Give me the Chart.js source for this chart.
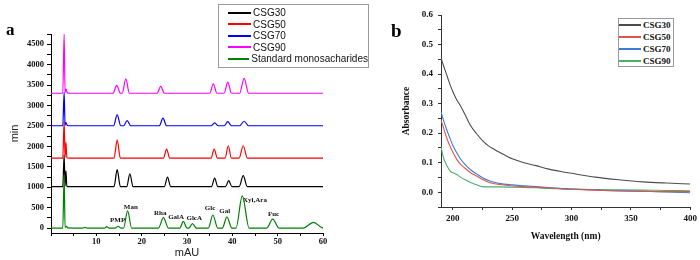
<!DOCTYPE html>
<html lang="en">
<head>
  <meta charset="UTF-8">
  <title>CSG monosaccharides and UV absorbance</title>
  <script src="https://cdn.jsdelivr.net/npm/chart.js"></script>
  <style>
    body {
      margin: 0;
      background: white;
      width: 700px;
      height: 260px;
      position: relative;
      overflow: hidden;
      font-family: 'Liberation Sans', Arial, sans-serif;
    }
    #chartA { position: absolute; left: 0; top: 0; }
    #chartB { position: absolute; left: 370px; top: 0; }
    .tag {
      position: absolute;
      font-family: 'Liberation Serif', serif;
      font-weight: bold;
      line-height: 1;
    }
    .legend {
      position: absolute;
      box-sizing: border-box;
      background: white;
      border: 1px solid #999;
    }
    .legend .row { display: flex; align-items: center; white-space: nowrap; }
    .legend .swatch { display: inline-block; height: 2px; }
    #legendA { left: 218px; top: 4px; width: 151px; height: 64px; padding-top: 2px; font-size: 10px; color: #111; }
    #legendA .row { height: 11.5px; }
    #legendA .swatch { width: 23px; margin-left: 9px; margin-right: 2px; }
    #legendB { left: 618px; top: 18px; width: 56px; height: 49px; padding-top: 0; font-family: 'Liberation Serif', serif; font-weight: bold; font-size: 9px; color: #111; }
    #legendB .row { height: 12px; }
    #legendB .swatch { width: 22px; margin-right: 2px; }
  </style>
</head>
<body>
  <canvas id="chartA" width="370" height="260"></canvas>
  <canvas id="chartB" width="330" height="260"></canvas>
  <div class="tag" style="left:6px; top:21px; font-size:17px;">a</div>
  <div class="tag" style="left:391px; top:21px; font-size:19px;">b</div>
  <div class="legend" id="legendA"></div>
  <div class="legend" id="legendB"></div>

  <script>
    // ---- panel a: chromatograms, [time, signal] pairs
    const hplcCSG30 = [[0,1015],[2.6,1015],[2.9,1800],[3.1,1030],[3.3,1400],[3.5,1020],[4.0,1015],
      [13.9,1015],[14.6,1430],[15.3,1015],[16.7,1015],[17.4,1325],[18.1,1015],
      [25.0,1015],[25.7,1245],[26.4,1015],[35.4,1015],[36.1,1225],[36.8,1015],
      [38.5,1015],[39.2,1160],[39.9,1015],[41.5,1015],[42.4,1285],[43.3,1015],[60,1015]];
    const hplcCSG50 = [[0,1710],[2.6,1710],[2.9,2620],[3.1,1730],[3.3,2100],[3.5,1720],[4.0,1710],
      [13.9,1710],[14.6,2155],[15.3,1710],[24.8,1710],[25.5,1935],[26.2,1710],
      [35.3,1710],[36.0,1935],[36.7,1710],[38.4,1710],[39.1,2015],[39.8,1710],
      [41.5,1710],[42.4,2015],[43.3,1710],[60,1710]];
    const hplcCSG70 = [[0,2505],[2.6,2505],[2.9,3330],[3.1,2520],[3.3,2580],[3.6,2510],[4.2,2505],
      [13.8,2505],[14.6,2770],[15.4,2505],[16.0,2505],[16.8,2630],[17.6,2505],
      [23.9,2505],[24.7,2690],[25.5,2505],[35.3,2505],[36.1,2575],[36.9,2505],
      [38.2,2505],[39.0,2605],[39.8,2505],[41.6,2505],[42.6,2615],[43.6,2505],[60,2505]];
    const hplcCSG90 = [[0,3300],[2.6,3300],[2.9,4750],[3.1,3320],[3.3,3400],[3.6,3310],[4.2,3300],
      [13.7,3300],[14.5,3495],[15.3,3300],[15.7,3300],[16.5,3650],[17.3,3300],
      [23.4,3300],[24.2,3470],[25.0,3300],[35.0,3300],[35.8,3530],[36.6,3300],
      [38.2,3300],[39.0,3570],[39.8,3300],[41.6,3300],[42.6,3665],[43.6,3300],[60,3300]];
    const hplcStandard = [[0,0],[2.6,0],[2.9,1300],[3.1,20],[3.4,40],[3.7,5],[7.0,0],[7.5,20],[8.0,0],
      [11.8,0],[12.3,35],[12.8,0],[14.2,0],[14.8,45],[15.4,0],[16.0,0],[16.9,420],[17.8,0],
      [23.7,0],[24.8,255],[25.9,0],[28.4,0],[29.2,165],[30.0,0],[30.4,0],[31.2,110],[32.1,0],
      [34.7,0],[35.7,320],[36.8,0],[37.8,0],[38.8,275],[39.9,0],[40.8,0],[42.2,790],[43.7,0],
      [47.6,0],[48.9,220],[50.3,0],[55.6,0],[57.9,140],[59.6,20],[60,0]];

    const peakNames = ['PMP', 'Man', 'Rha', 'GalA', 'GlcA', 'Glc', 'Gal', 'Xyl,Ara', 'Fuc'];
    const peakNameTime = [14.7, 17.6, 24.1, 27.6, 31.6, 35.1, 38.3, 45.0, 49.1];
    const peakNameSignal = [200, 510, 370, 275, 250, 490, 415, 690, 345];

    // ---- panel b: UV absorbance
    const wavelength = [190, 192, 195, 198, 200, 203, 206, 210, 215, 220, 225, 230, 235, 240,
      250, 260, 270, 280, 290, 300, 320, 340, 360, 380, 400];
    const absCSG30 = [0.455, 0.43, 0.395, 0.36, 0.34, 0.315, 0.295, 0.265, 0.225, 0.198, 0.175, 0.157, 0.145, 0.134,
      0.113, 0.100, 0.090, 0.079, 0.071, 0.064, 0.051, 0.042, 0.035, 0.031, 0.028];
    const absCSG50 = [0.245, 0.22, 0.182, 0.152, 0.135, 0.113, 0.097, 0.082, 0.066, 0.055, 0.043, 0.034, 0.029, 0.026,
      0.021, 0.019, 0.017, 0.015, 0.012, 0.010, 0.007, 0.004, 0.003, 0.002, 0.002];
    const absCSG70 = [0.272, 0.245, 0.21, 0.178, 0.158, 0.135, 0.115, 0.095, 0.076, 0.062, 0.049, 0.040, 0.034, 0.029,
      0.025, 0.022, 0.019, 0.016, 0.013, 0.011, 0.008, 0.005, 0.003, 0.001, -0.002];
    const absCSG90 = [0.155, 0.118, 0.09, 0.071, 0.066, 0.061, 0.052, 0.043, 0.033, 0.025, 0.019, 0.018, 0.018, 0.018,
      0.017, 0.016, 0.015, 0.013, 0.012, 0.011, 0.009, 0.008, 0.007, 0.006, 0.005];

    const toXY = pairs => pairs.map(p => ({ x: p[0], y: p[1] }));

    const seriesA = [
      { label: 'CSG30', data: hplcCSG30, color: '#000000', order: 5 },
      { label: 'CSG50', data: hplcCSG50, color: '#ff0000', order: 4 },
      { label: 'CSG70', data: hplcCSG70, color: '#0000ff', order: 3 },
      { label: 'CSG90', data: hplcCSG90, color: '#ff00ff', order: 2 },
      { label: 'Standard monosacharides', data: hplcStandard, color: '#008000', order: 1 }
    ];
    const seriesB = [
      { label: 'CSG30', data: absCSG30, color: '#4d4d4d' },
      { label: 'CSG50', data: absCSG50, color: '#e0544f' },
      { label: 'CSG70', data: absCSG70, color: '#3b7dd0' },
      { label: 'CSG90', data: absCSG90, color: '#4caf6e' }
    ];

    // simple html legends
    function buildLegend(id, series) {
      const box = document.getElementById(id);
      series.forEach(s => {
        const row = document.createElement('div');
        row.className = 'row';
        const sw = document.createElement('span');
        sw.className = 'swatch';
        sw.style.backgroundColor = s.color;
        const txt = document.createElement('span');
        txt.textContent = s.label;
        row.appendChild(sw);
        row.appendChild(txt);
        box.appendChild(row);
      });
    }
    buildLegend('legendA', seriesA);
    buildLegend('legendB', seriesB);

    // peak names on the standard trace
    const peakLabelPlugin = {
      id: 'peakLabels',
      afterDatasetsDraw(chart) {
        const { ctx, scales: { x, y } } = chart;
        ctx.save();
        ctx.font = 'bold 7px "Liberation Serif"';
        ctx.fillStyle = '#111';
        ctx.textAlign = 'center';
        ctx.textBaseline = 'middle';
        peakNames.forEach((name, i) => {
          ctx.fillText(name, x.getPixelForValue(peakNameTime[i]), y.getPixelForValue(peakNameSignal[i]));
        });
        ctx.restore();
      }
    };

    const tickFontA = { family: 'Liberation Serif', size: 8.5, weight: 'bold' };

    new Chart(document.getElementById('chartA'), {
      type: 'line',
      data: {
        datasets: seriesA.map(s => ({
          label: s.label,
          data: toXY(s.data),
          borderColor: s.color,
          borderWidth: 1.2,
          pointRadius: 0,
          fill: false,
          order: s.order,
          cubicInterpolationMode: 'monotone'
        }))
      },
      options: {
        responsive: false,
        animation: false,
        layout: { padding: { left: 0, right: 47, top: 34, bottom: 0 } },
        plugins: { legend: { display: false }, tooltip: { enabled: false } },
        scales: {
          x: {
            type: 'linear',
            min: 0,
            max: 60,
            afterFit: s => { s.height = 27; },
            border: { color: '#000', width: 1 },
            grid: { drawOnChartArea: false, color: '#000', tickLength: 3 },
            ticks: {
              stepSize: 5,
              autoSkip: false,
              maxRotation: 0,
              padding: 1,
              color: '#111',
              font: tickFontA,
              callback: v => (v % 10 === 0 && v > 0) ? v : ''
            },
            title: { display: true, text: 'mAU', color: '#222', padding: { top: 0, bottom: 0 },
              font: { family: 'Liberation Sans', size: 11 } }
          },
          y: {
            min: -120,
            max: 4750,
            afterFit: s => { s.width = 51; },
            border: { color: '#000', width: 1 },
            grid: { drawOnChartArea: false, color: '#000', tickLength: 4 },
            ticks: {
              stepSize: 250,
              includeBounds: false,
              autoSkip: false,
              padding: 3,
              color: '#111',
              font: tickFontA,
              callback: v => (v % 500 === 0 && v <= 4500) ? v : ''
            },
            title: { display: true, text: 'min', color: '#222', padding: { top: 8, bottom: 0 },
              font: { family: 'Liberation Sans', size: 11 } }
          }
        }
      },
      plugins: [peakLabelPlugin]
    });

    const tickFontB = { family: 'Liberation Serif', size: 9, weight: 'bold' };

    new Chart(document.getElementById('chartB'), {
      type: 'line',
      data: {
        datasets: seriesB.map(s => ({
          label: s.label,
          data: s.data.map((v, i) => ({ x: wavelength[i], y: v })),
          borderColor: s.color,
          borderWidth: 1.1,
          pointRadius: 0,
          fill: false,
          cubicInterpolationMode: 'monotone'
        }))
      },
      options: {
        responsive: false,
        animation: false,
        layout: { padding: { left: 30, right: 8, top: 15, bottom: 18 } },
        plugins: { legend: { display: false }, tooltip: { enabled: false } },
        scales: {
          x: {
            type: 'linear',
            min: 190,
            max: 400,
            afterFit: s => { s.height = 35; },
            border: { color: '#333', width: 1 },
            grid: { drawOnChartArea: false, color: '#333', tickLength: 3 },
            ticks: {
              stepSize: 25,
              includeBounds: false,
              autoSkip: false,
              maxRotation: 0,
              padding: 3,
              color: '#111',
              font: tickFontB,
              callback: v => (v % 50 === 0) ? v : ''
            },
            title: { display: true, text: 'Wavelength (nm)', color: '#111', padding: { top: 0, bottom: 0 },
              font: { family: 'Liberation Serif', size: 9.5, weight: 'bold' } }
          },
          y: {
            min: -0.05,
            max: 0.6,
            afterFit: s => { s.width = 41; },
            border: { color: '#333', width: 1 },
            grid: { drawOnChartArea: false, color: '#333', tickLength: 3 },
            ticks: {
              stepSize: 0.05,
              includeBounds: false,
              autoSkip: false,
              padding: 5,
              color: '#111',
              font: tickFontB,
              callback: v => {
                const tenth = Math.round(v * 10);
                return (Math.abs(v * 10 - tenth) < 1e-6 && tenth >= 0) ? (tenth / 10).toFixed(1) : '';
              }
            },
            title: { display: true, text: 'Absorbance', color: '#111', padding: { top: 1, bottom: 0 },
              font: { family: 'Liberation Serif', size: 9.5, weight: 'bold' } }
          }
        }
      }
    });
  </script>
</body>
</html>
